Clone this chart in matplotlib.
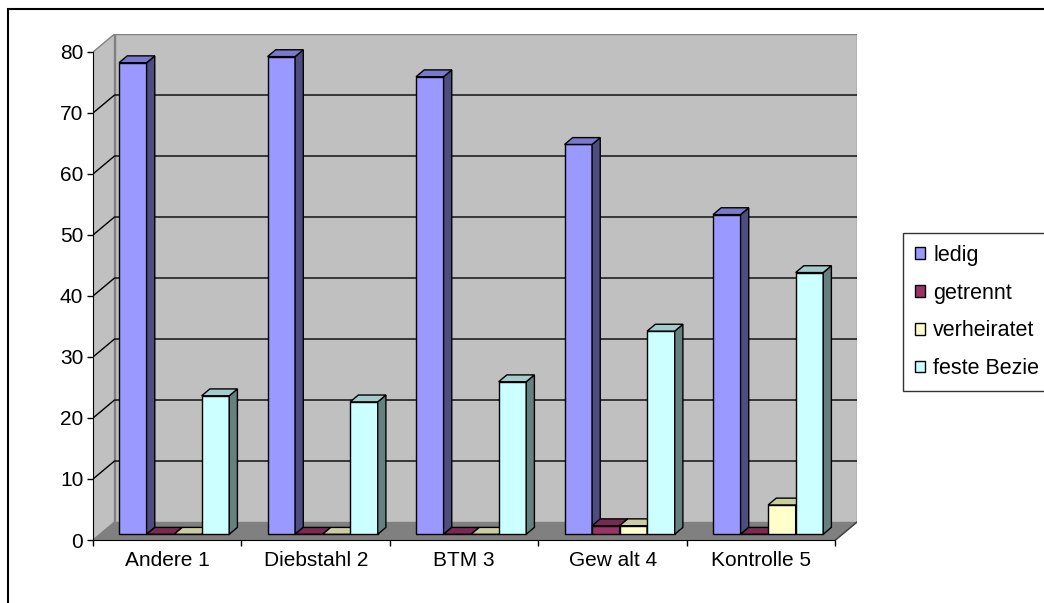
import matplotlib.pyplot as plt
from matplotlib.patches import Polygon, Rectangle, Patch
from matplotlib.colors import to_rgb

plt.rcParams['font.family'] = ['Liberation Sans', 'DejaVu Sans']

# Daten (Prozent je Deliktgruppe)
categories = ['Andere 1', 'Diebstahl 2', 'BTM 3', 'Gew alt 4', 'Kontrolle 5']
series = ['ledig', 'getrennt', 'verheiratet', 'feste Bezie']
ledig = [77.3, 78.3, 75.0, 63.9, 52.4]
getrennt = [0.0, 0.0, 0.0, 1.4, 0.0]
verheiratet = [0.0, 0.0, 0.0, 1.4, 4.8]
feste = [22.7, 21.7, 25.0, 33.3, 42.9]
yticks = [0, 10, 20, 30, 40, 50, 60, 70, 80]

values = [ledig, getrennt, verheiratet, feste]
colors = ['#9999FF', '#993366', '#FFFFCC', '#CCFFFF']

DX = 0.145   # Tiefe in Kategorie-Einheiten
DY = 2.95    # Tiefe in Werte-Einheiten
YMAX = 80


def shade(c, f):
    r, g, b = to_rgb(c)
    return (r * f, g * f, b * f)


def bar3d(ax, x0, w, h, col):
    d0, d1 = 0.32, 0.70
    ox, oy = d0 * DX, d0 * DY
    ex, ey = (d1 - d0) * DX, (d1 - d0) * DY
    x = x0 + ox
    front = [(x, oy), (x + w, oy), (x + w, oy + h), (x, oy + h)]
    side = [(x + w, oy), (x + w + ex, oy + ey), (x + w + ex, oy + h + ey), (x + w, oy + h)]
    top = [(x, oy + h), (x + w, oy + h), (x + w + ex, oy + h + ey), (x + ex, oy + h + ey)]
    for pts, f in [(front, 1.0), (side, 0.5), (top, 0.8)]:
        ax.add_patch(Polygon(pts, closed=True, fc=shade(col, f), ec='black', lw=1.0, zorder=5, joinstyle='miter'))


fig = plt.figure(figsize=(10.44, 6.03), dpi=100)
ax = fig.add_axes([93 / 1044, 63 / 603, (857 - 93) / 1044, (540 - 34) / 603])
ax.set_xlim(0, len(categories) + DX)
ax.set_ylim(0, YMAX + DY)
ax.patch.set_visible(False)

n = len(categories)
# Boden und Waende
ax.add_patch(Polygon([(0, 0), (n, 0), (n + DX, DY), (DX, DY)], fc='#808080', ec='#808080', lw=1, zorder=1))
ax.add_patch(Polygon([(DX, DY), (n + DX, DY), (n + DX, YMAX + DY), (DX, YMAX + DY)], fc='#C0C0C0', ec='#808080', lw=1, zorder=1))
ax.add_patch(Polygon([(0, 0), (DX, DY), (DX, YMAX + DY), (0, YMAX)], fc='#C0C0C0', ec='#808080', lw=1, zorder=1))
ax.plot([n, n + DX], [0, DY], color='#404040', lw=1, zorder=2)

# Gitterlinien
for v in yticks[1:-1]:
    ax.plot([0, DX, n + DX], [v, v + DY, v + DY], color='black', lw=1, zorder=2)

# Balken
nser = len(series)
w = 0.1855
gap = (1 - nser * w) / 2
for i in range(n):
    for j in range(nser):
        bar3d(ax, i + gap + j * w, w, values[j][i], colors[j])

# Achsen
for s in ['top', 'right']:
    ax.spines[s].set_visible(False)
ax.spines['left'].set_bounds(0, YMAX)
ax.spines['bottom'].set_bounds(0, n)
ax.spines['left'].set_zorder(6)
ax.spines['bottom'].set_zorder(6)
ax.set_yticks(yticks)
ax.set_yticklabels([str(v) for v in yticks], fontsize=15)
ax.tick_params(axis='y', direction='out', length=4, width=1, pad=3)
ax.set_xticks(range(n + 1))
ax.set_xticklabels([])
ax.set_xticks([i + 0.5 for i in range(n)], minor=True)
ax.set_xticklabels(categories, minor=True, fontsize=15)
ax.tick_params(axis='x', which='major', direction='out', length=4.5, width=1)
ax.tick_params(axis='x', which='minor', length=0, pad=8)

# Legende
handles = [Patch(fc=c, ec='black', lw=1) for c in colors]
leg = fig.legend(handles, series, loc='upper left', bbox_to_anchor=(903 / 1044, 1 - 233 / 603),
                 borderaxespad=0, fontsize=15.5, frameon=True, fancybox=False, handlelength=0.45,
                 handleheight=0.45, handletextpad=0.4, labelspacing=0.78, borderpad=0.55)
leg.get_frame().set_edgecolor('black')
leg.get_frame().set_linewidth(1)

# Rahmen des Diagrammbereichs
fig.add_artist(Rectangle((8 / 1044, -0.05), 1.1, 1 - 9 / 603 + 0.05, transform=fig.transFigure,
                         fill=False, ec='black', lw=1.5))

fig.savefig('out.png', dpi=100)
